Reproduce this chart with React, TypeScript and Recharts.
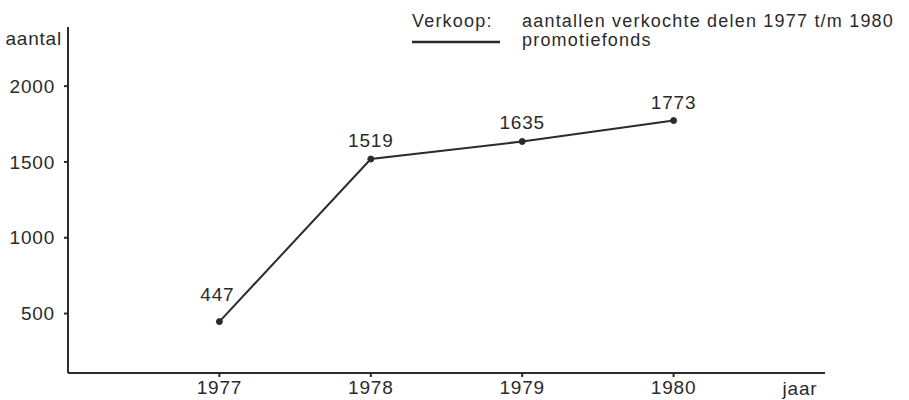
import React from "react";
import {
  LineChart,
  Line,
  XAxis,
  YAxis,
  LabelList,
} from "recharts";

const years = [1977, 1978, 1979, 1980];
const sold = [447, 1519, 1635, 1773];
const yTicks = [500, 1000, 1500, 2000];

const data = years.map((jaar, i) => ({ jaar, aantal: sold[i] }));

const ink = "#2b2b2b";
const font = "'Liberation Sans', Arial, sans-serif";
const textStyle = { fontFamily: font, fontSize: 19, letterSpacing: 0.8, fill: ink };
const legendText = { fontFamily: font, fontSize: 18, letterSpacing: 1.2, fill: ink };

function PointLabel(props: any) {
  const { x, y, value, index } = props;
  const lift = index === 0 ? 21 : 12;
  return (
    <text x={x - (index === 0 ? 2 : 0)} y={y - lift} textAnchor="middle" style={textStyle}>
      {value}
    </text>
  );
}

// title + legend key, laid over the chart
function TitleLegend() {
  return (
    <svg
      width={909}
      height={60}
      style={{ position: "absolute", left: 0, top: 0, display: "block", pointerEvents: "none" }}
    >
      <text x={412} y={27} style={legendText}>Verkoop:</text>
      <line x1={412} x2={500} y1={42} y2={42} stroke={ink} strokeWidth={2.5} />
      <text x={522} y={27} style={legendText}>aantallen verkochte delen 1977 t/m 1980</text>
      <text x={522} y={46} style={legendText}>promotiefonds</text>
    </svg>
  );
}

export default function App() {
  return (
    <div style={{ position: "absolute", left: 0, top: 0, width: 909, height: 400, background: "#fff" }}>
      <LineChart
        width={909}
        height={400}
        data={data}
        margin={{ top: 27, right: 84, bottom: 0, left: 8 }}
      >
        <XAxis
          dataKey="jaar"
          type="number"
          domain={[1976, 1981]}
          ticks={years}
          height={27}
          stroke={ink}
          strokeWidth={2}
          tickSize={4}
          tickMargin={4}
          tick={textStyle}
          label={{
            content: (p: any) => {
              const vb = p.viewBox || {};
              return (
                <text x={vb.x + vb.width - 25} y={vb.y + 22} textAnchor="middle" style={textStyle}>
                  jaar
                </text>
              );
            },
          }}
        />
        <YAxis
          type="number"
          domain={[108, 2390]}
          allowDataOverflow
          ticks={yTicks}
          width={60}
          stroke={ink}
          strokeWidth={2}
          tickSize={4}
          tickMargin={9}
          tick={textStyle}
          label={{
            content: (p: any) => {
              const vb = p.viewBox || {};
              return (
                <text x={vb.x + vb.width - 6} y={vb.y + 18} textAnchor="end" style={textStyle}>
                  aantal
                </text>
              );
            },
          }}
        />
        <Line
          dataKey="aantal"
          stroke={ink}
          strokeWidth={2}
          dot={{ r: 3, fill: ink, stroke: ink, strokeWidth: 1 }}
          activeDot={false}
          isAnimationActive={false}
        >
          <LabelList dataKey="aantal" content={<PointLabel />} />
        </Line>
      </LineChart>
      <TitleLegend />
    </div>
  );
}
